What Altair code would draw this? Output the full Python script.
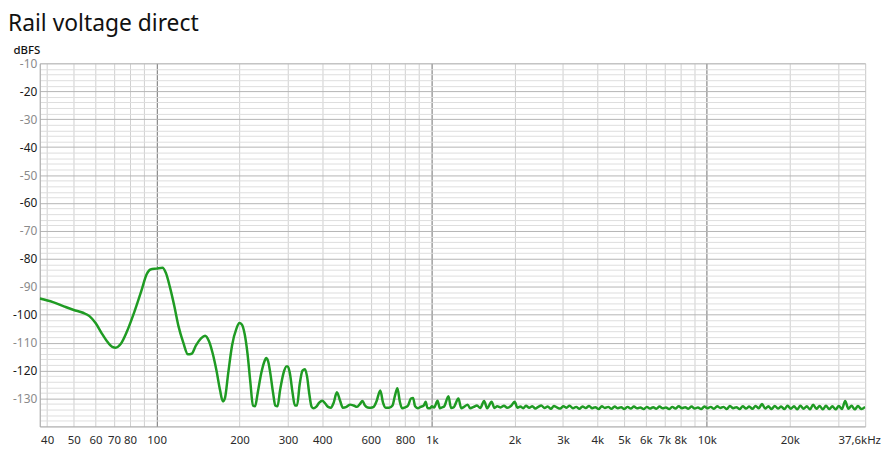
import altair as alt
import pandas as pd

# ---- data ----
FREQ_LOW = [37.6, 42, 46, 50, 54, 57, 60, 63, 66, 69, 71, 74, 78, 83, 88, 92, 95, 100, 105, 108,
            112, 116, 120, 125, 130, 134, 139, 145, 150, 155, 160, 165, 170, 174, 177, 182, 188,
            195, 200, 204, 209, 214, 219, 224, 228, 233, 240, 247, 250, 254, 259, 265, 270, 275,
            281, 289, 296, 300, 305, 312, 318, 324, 331, 339, 346, 352, 359, 366, 372, 380]
LEVEL_LOW = [-94.2, -95.5, -97, -98.3, -99.3, -100.5, -103, -106.5, -109.5, -111.5, -111.8, -110.5,
             -106, -99, -91.5, -85.5, -83.8, -83.5, -83.2, -85, -90.5, -97, -104, -110, -114.2,
             -114, -111, -108.5, -107.5, -109.5, -114, -120, -127, -131, -130, -121, -111, -105,
             -103, -103.5, -107, -114, -124, -132.5, -132.8, -128, -121, -116.5, -115.5, -116.5,
             -121, -128, -132.5, -132.8, -127, -121, -118.5, -118.5, -121, -128, -132.5, -132.5,
             -125, -120, -119.5, -122, -128.5, -133, -133.5, -133]

FREQ_MID = [390, 400, 410, 420, 430, 440, 452, 465, 475, 490, 505, 520, 535, 548, 560, 572, 585,
            600, 615, 630, 650, 665, 680, 700, 720, 735, 750, 765, 780, 800, 820, 840, 855, 870,
            890, 910, 935, 950, 965, 985, 1000, 1020, 1050, 1070, 1090, 1110, 1150, 1175, 1200,
            1250, 1280, 1310, 1350, 1380, 1420, 1460, 1500, 1550, 1590, 1650, 1690, 1730, 1780,
            1830, 1880, 1940, 2000, 2050]
LEVEL_MID = [-131.5, -130.8, -131.8, -133, -133.3, -131.5, -127.8, -131, -133.3, -133, -132.2,
             -132.5, -133, -132, -130.9, -132.5, -133.2, -133.3, -133, -131, -127.1, -131.5,
             -133.3, -133.3, -132.5, -129, -126.3, -131, -133.5, -133.2, -132.5, -130, -129.8,
             -132.8, -133.5, -133, -132.5, -131.2, -133.4, -133.5, -132.8, -133.2, -130.8, -133.5,
             -133.2, -132.8, -129.2, -133.4, -133.2, -130, -133.5, -133, -132.2, -133.5, -133,
             -132.5, -133.4, -130.9, -133.5, -131.2, -133.4, -132.8, -133.2, -132.6, -133.3,
             -132.7, -131.2, -133.3]

FREQ_HIGH = [2100, 2150, 2200, 2260, 2320, 2380, 2440, 2500, 2570, 2640, 2710, 2780, 2850, 2930,
             3010, 3090, 3170, 3260, 3350, 3440, 3530, 3630, 3730, 3830, 3930, 4040, 4150, 4260,
             4380, 4500, 4620, 4750, 4880, 5010, 5150, 5290, 5430, 5580, 5730, 5890, 6050, 6210,
             6380, 6550, 6730, 6910, 7100, 7290, 7490, 7690, 7900, 8120, 8340, 8560, 8800, 9030,
             9280, 9530, 9790, 10060, 10330, 10610, 10900, 11190, 11500, 11810, 12130, 12460,
             12800, 13150, 13500, 13870, 14250, 14630, 15030, 15440, 15860, 16290, 16730, 17180,
             17650, 18130, 18620, 19130, 19650, 20180, 20730, 21290, 21870, 22460, 23070, 23700,
             24340, 25000, 25680, 26380, 27090, 27830, 28580, 29360, 30160, 30970, 31810, 32680,
             33560, 34470, 35410, 36370, 37600]
LEVEL_HIGH = [-132.9, -133.5, -132.6, -133.3, -132.8, -133.6, -133.0, -132.5, -133.4, -132.9,
              -133.7, -132.7, -133.2, -133.6, -132.8, -133.3, -132.6, -133.5, -133.0, -133.7,
              -132.9, -133.4, -132.7, -133.5, -133.1, -133.8, -132.8, -133.4, -133.0, -133.7,
              -132.9, -133.5, -133.1, -133.8, -133.0, -133.6, -132.9, -133.5, -133.2, -133.8,
              -133.0, -133.6, -133.1, -133.7, -132.9, -133.5, -133.2, -133.8, -133.0, -133.6,
              -132.8, -133.5, -133.1, -133.7, -132.9, -133.6, -133.2, -133.8, -132.9, -133.5,
              -133.0, -133.7, -132.8, -133.4, -133.0, -133.8, -132.7, -133.5, -133.1, -133.8,
              -132.8, -133.6, -132.9, -133.7, -132.7, -133.5, -132.0, -133.6, -132.8, -133.8,
              -132.7, -133.6, -132.9, -133.8, -132.6, -133.7, -132.8, -133.9, -132.6, -133.7,
              -132.8, -133.9, -132.2, -133.7, -132.7, -133.9, -132.6, -133.8, -132.8, -133.9,
              -132.7, -133.8, -130.9, -133.7, -132.6, -133.9, -132.7, -133.8, -133.0]

X_GRID = [40, 50, 60, 70, 80, 90, 100, 200, 300, 400, 500, 600, 700, 800, 900,
          1000, 2000, 3000, 4000, 5000, 6000, 7000, 8000, 9000, 10000, 20000, 30000, 37600]
X_LABELED = [40, 50, 60, 70, 80, 100, 200, 300, 400, 600, 800, 1000, 2000, 3000, 4000,
             5000, 6000, 7000, 8000, 10000, 20000, 37600]
Y_GRID = list(range(-138, -9, 2))

df = pd.DataFrame({
    "freq": FREQ_LOW + FREQ_MID + FREQ_HIGH,
    "level": LEVEL_LOW + LEVEL_MID + LEVEL_HIGH,
})
df["order"] = range(len(df))

labeled = ",".join(str(v) for v in X_LABELED)
x_label_expr = (
    f"indexof([{labeled}], datum.value) < 0 ? '' : "
    "(datum.value == 37600 ? '37,6kHz' : "
    "(datum.value >= 1000 ? (datum.value / 1000) + 'k' : datum.value + ''))"
)

x_axis = alt.Axis(
    values=X_GRID,
    labelExpr=x_label_expr,
    labelOverlap=False,
    labelFlush=False,
    ticks=False,
    labelPadding=8,
    labelOffset={"condition": {"test": "datum.value == 37600", "value": -6}, "value": 0},
    labelFont="Noto Sans",
    labelFontSize=11.5,
    labelColor="#2a2a2a",
    title=None,
    grid=True,
    gridColor={"condition": {"test": "indexof([100,1000,10000], datum.value) >= 0", "value": "#6f6f6f"},
               "value": "#cfcfcf"},
    gridWidth=1,
    domainColor="#a8a8a8",
)

y_axis = alt.Axis(
    values=Y_GRID,
    labelExpr="datum.value % 10 == 0 ? datum.value + '' : ''",
    labelColor={"condition": {"test": "datum.value % 20 == 0", "value": "#1a1a1a"}, "value": "#8a8a8a"},
    labelFont="Noto Sans",
    labelFontSize=12,
    labelPadding=3,
    labelOverlap=False,
    ticks=False,
    grid=True,
    gridColor={"condition": {"test": "datum.value % 10 == 0", "value": "#b4b4b4"}, "value": "#dedede"},
    gridWidth=1,
    domainColor="#a8a8a8",
    title="dBFS",
    titleAngle=0,
    titleAlign="left",
    titleBaseline="alphabetic",
    titleX=-27,
    titleY=-10,
    titleFont="Noto Sans",
    titleFontSize=11.5,
    titleFontWeight=500,
    titleColor="#111111",
)

chart = (
    alt.Chart(df)
    .mark_line(color="#1f9b23", strokeWidth=2.5, interpolate="monotone", clip=True)
    .encode(
        x=alt.X("freq:Q", scale=alt.Scale(type="log", domain=[37.6, 37600], nice=False), axis=x_axis),
        y=alt.Y("level:Q", scale=alt.Scale(domain=[-140, -10], nice=False, zero=False), axis=y_axis),
        order="order:Q",
    )
    .properties(
        width=832,
        height=366,
        title=alt.TitleParams(
            "Rail voltage direct",
            anchor="start",
            frame="group",
            font="Noto Sans",
            fontSize=23,
            fontWeight="normal",
            color="#111111",
            dx=-32,
            dy=5,
            offset=-4,
            baseline="alphabetic",
        ),
        autosize=alt.AutoSizeParams(type="none"),
        padding={"left": 32, "top": 54, "right": 18, "bottom": 22},
    )
    .configure_view(stroke="#cfcfcf", strokeWidth=1)
    .configure(background="white")
)

chart.save("out.html", embed_options={"renderer": "svg", "actions": False})
